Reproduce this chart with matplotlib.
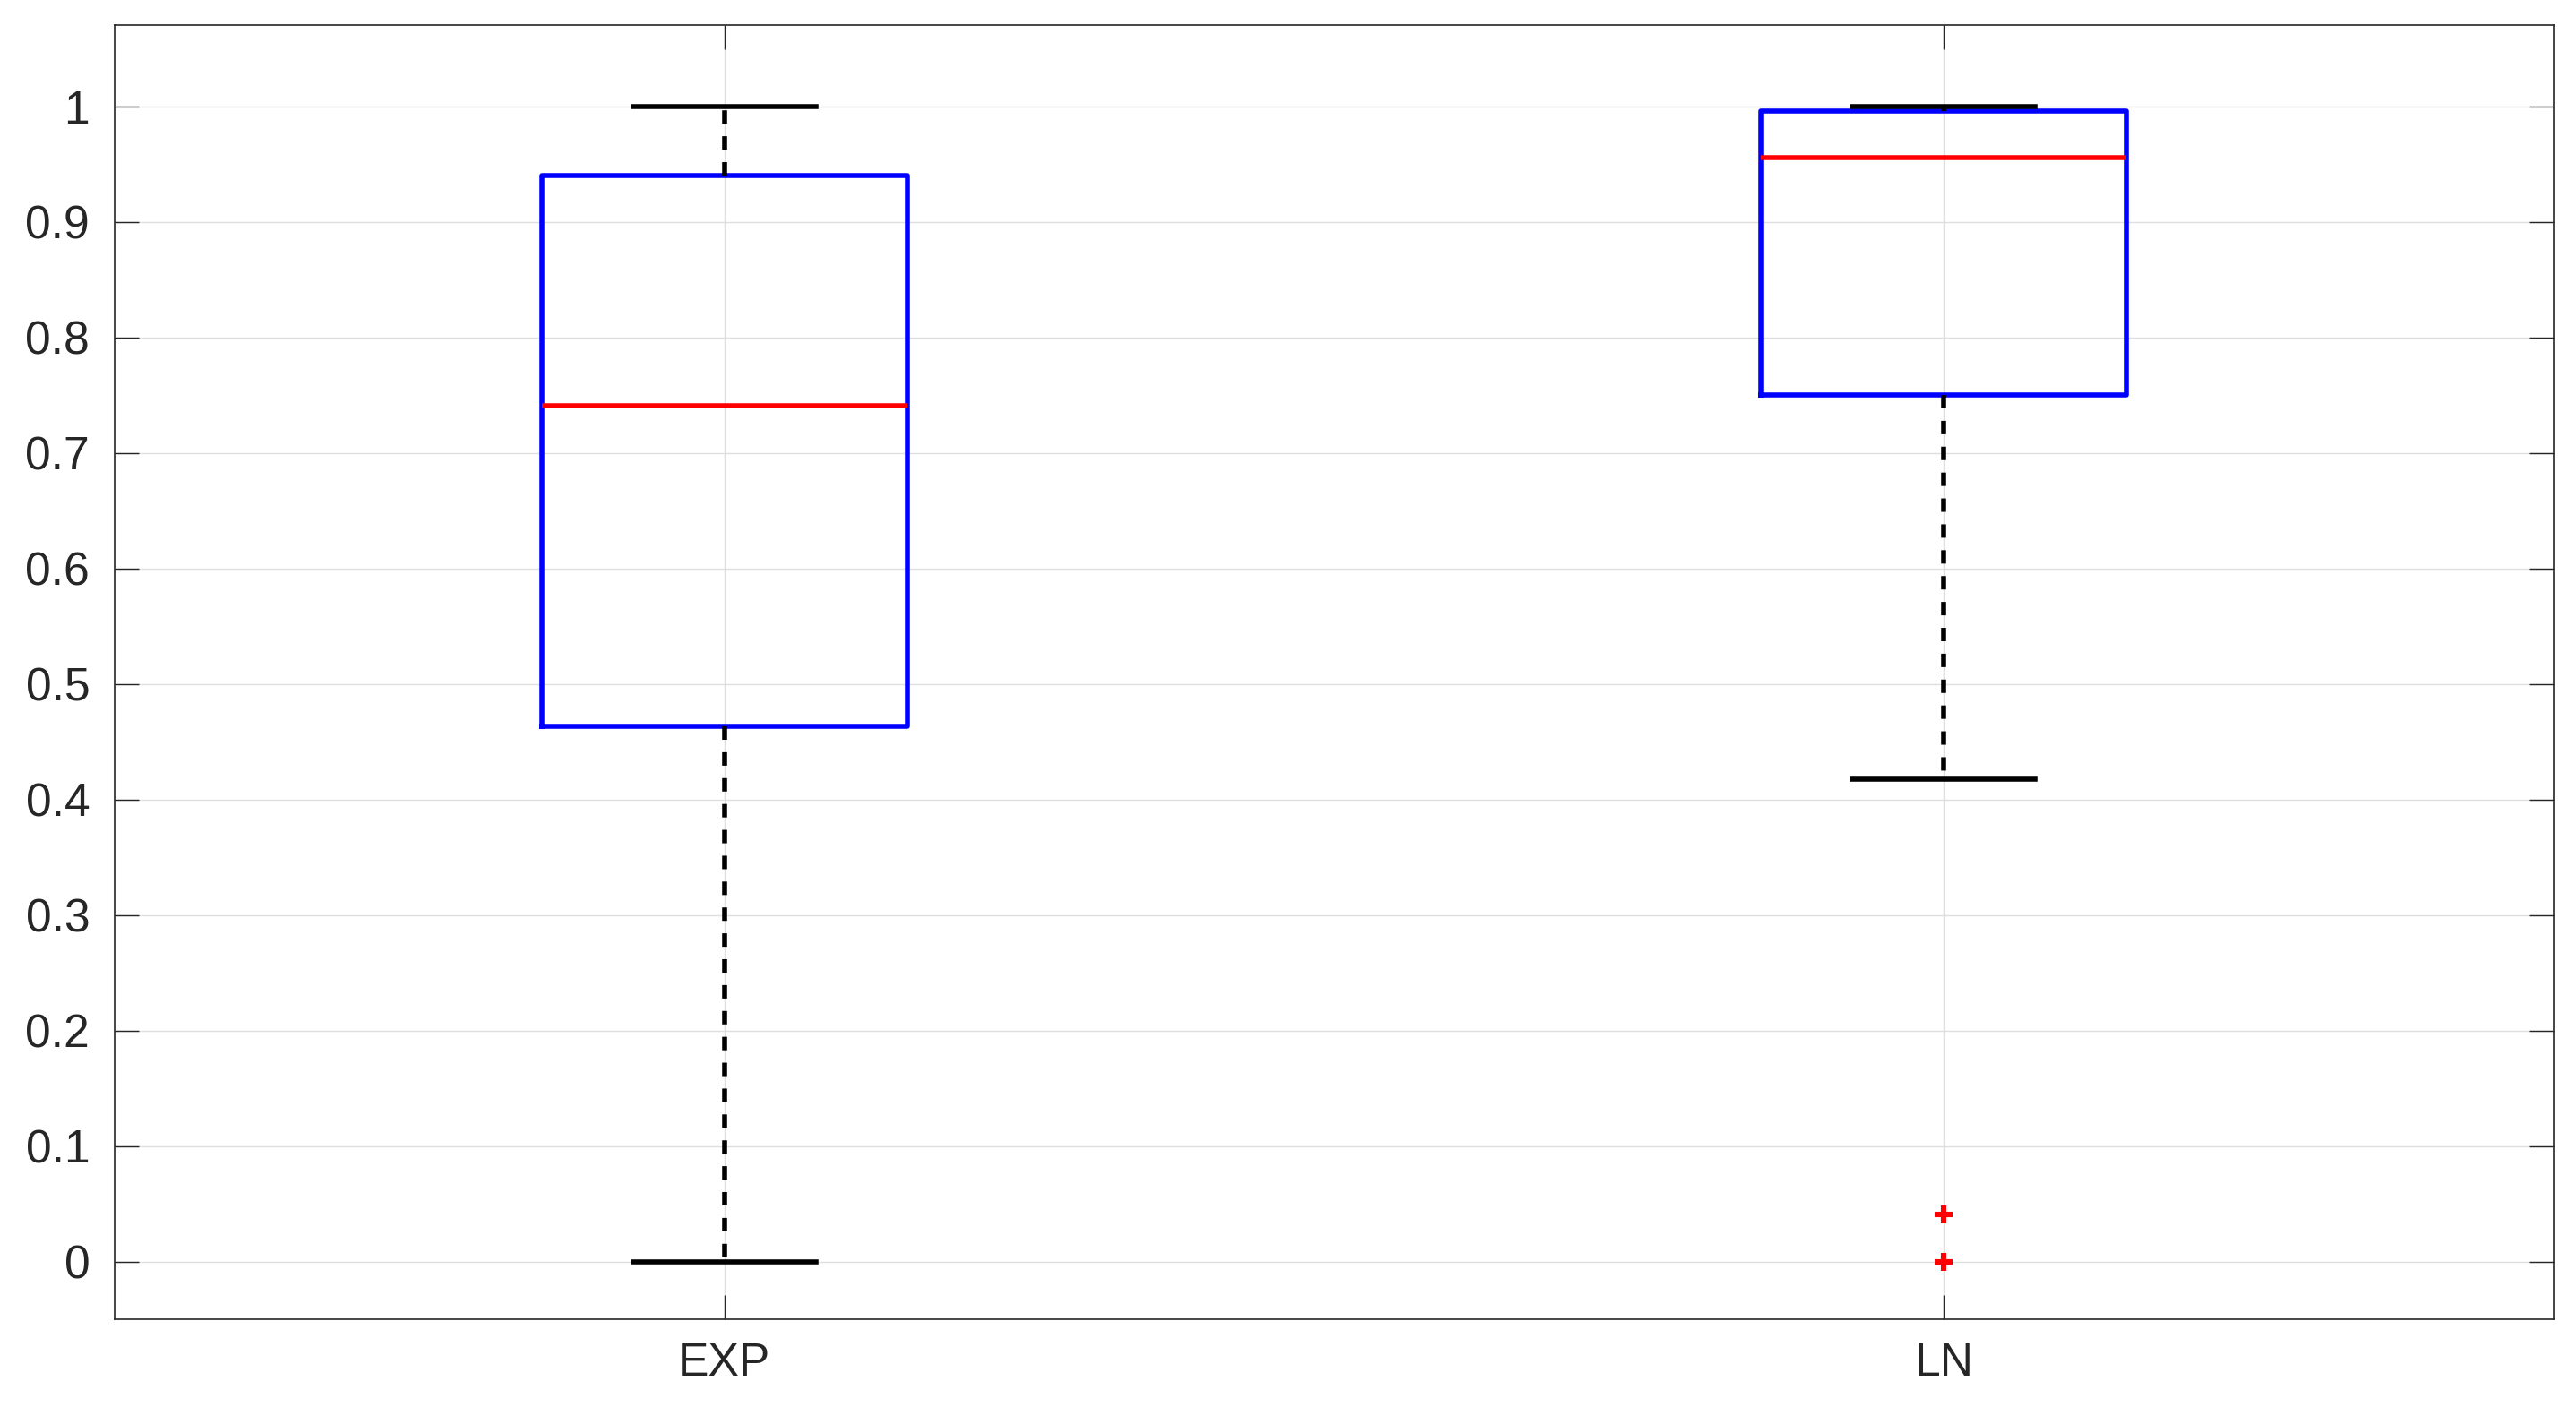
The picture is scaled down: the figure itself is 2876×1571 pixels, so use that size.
import matplotlib
matplotlib.use('Agg')
import matplotlib.pyplot as plt
import numpy as np

# box statistics
labels = ['EXP', 'LN']
whislo = [0.0, 0.418]
q1 = [0.4635, 0.750]
med = [0.741, 0.9555]
q3 = [0.940, 0.9963]
whishi = [1.0, 1.0]
fliers = [[], [0.0, 0.041]]

yticks = np.round(np.arange(0, 1.01, 0.1), 1)

plt.rcParams['font.family'] = ['Liberation Sans', 'DejaVu Sans']

stats = []
for i in range(len(labels)):
    stats.append(dict(label=labels[i], whislo=whislo[i], q1=q1[i], med=med[i],
                      q3=q3[i], whishi=whishi[i], fliers=fliers[i]))

W, H = 2876, 1571
fig = plt.figure(figsize=(W / 200, H / 200), dpi=200)
ax = fig.add_axes([128 / W, 1 - 1473 / H, (2851 - 128) / W, (1473 - 28) / H])

lw = 2.0
ax.bxp(stats, positions=[1, 2], widths=0.3, capwidths=0.15,
       boxprops=dict(color='blue', lw=lw),
       medianprops=dict(color='red', lw=lw),
       whiskerprops=dict(color='black', lw=lw, linestyle=(0, (2.7, 2.5))),
       capprops=dict(color='black', lw=lw),
       flierprops=dict(marker='+', markeredgecolor='red', markersize=7,
                       markeredgewidth=2.2, linestyle='none'),
       manage_ticks=False)

ax.set_xlim(0.5, 2.5)
ax.set_ylim(-0.05, 1.0706)
ax.set_xticks([1, 2])
ax.set_xticklabels(labels)
ax.set_yticks(yticks)
ax.set_yticklabels([f'{v:g}' for v in yticks])

ax.set_axisbelow(True)
ax.grid(True, color='#dfdfdf', lw=0.5)
for s in ax.spines.values():
    s.set_color('#262626')
    s.set_linewidth(0.6)

ax.tick_params(direction='in', length=9.7, width=0.5, top=True, right=True,
               labelsize=18.6, colors='#262626')
ax.tick_params(axis='y', pad=10)
ax.tick_params(axis='x', pad=9)

fig.savefig('out.png', dpi=200)
